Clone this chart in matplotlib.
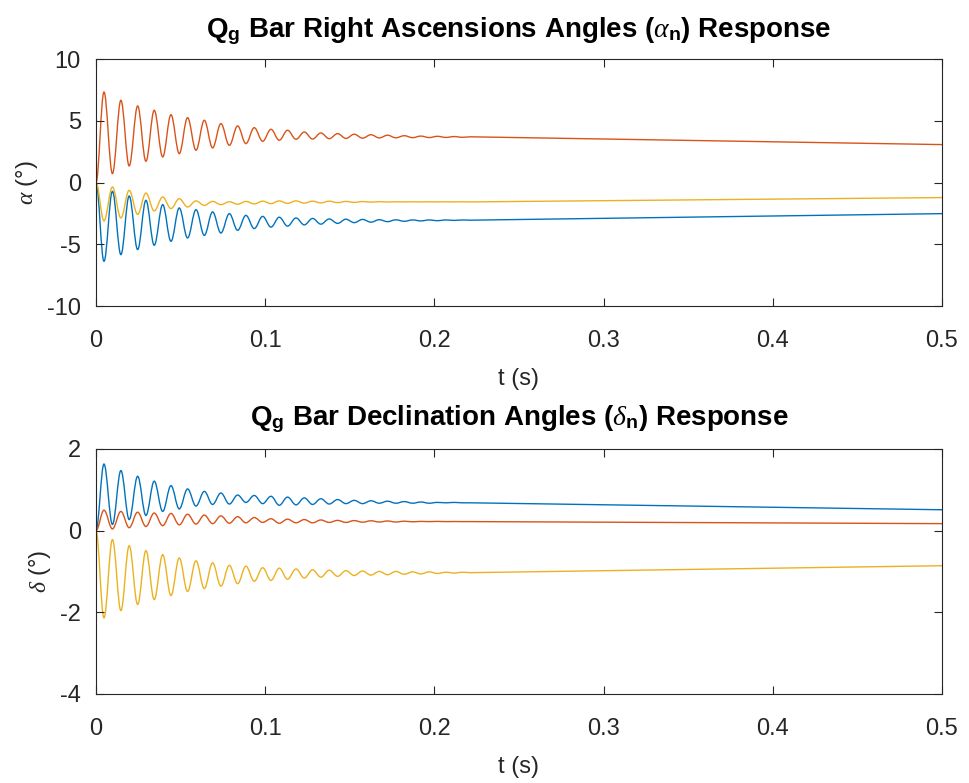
import matplotlib
matplotlib.use('Agg')
import matplotlib.pyplot as plt
from matplotlib.path import Path
from matplotlib.patches import PathPatch

plt.rcParams['font.family'] = ['Liberation Sans', 'DejaVu Sans']
plt.rcParams['mathtext.fontset'] = 'custom'
plt.rcParams['mathtext.rm'] = 'Liberation Sans'
plt.rcParams['mathtext.it'] = 'Liberation Serif:italic'
plt.rcParams['mathtext.bf'] = 'Liberation Sans:bold'

# peak / trough times (s), last point is the end of the run
t_ext = [0, 0.0047, 0.0097, 0.0147, 0.0196, 0.0246, 0.0295, 0.0344, 0.0394, 0.0443,
         0.0492, 0.0541, 0.0591, 0.0640, 0.0689, 0.0738, 0.0788, 0.0837, 0.0886, 0.0935,
         0.0985, 0.1034, 0.1083, 0.1132, 0.1182, 0.1231, 0.1280, 0.1329, 0.1378, 0.1428,
         0.1477, 0.1526, 0.1575, 0.1625, 0.1674, 0.1723, 0.1772, 0.1822, 0.1871, 0.1920,
         0.1969, 0.2018, 0.2068, 0.2117, 0.2166, 0.2215, 0.5]

# right ascension angles (deg)
alpha_1 = [0, -6.37, -0.70, -5.83, -1.08, -5.42, -1.43, -5.07, -1.78, -4.75,
           -2.05, -4.48, -2.19, -4.27, -2.37, -4.08, -2.51, -3.86, -2.65, -3.72,
           -2.73, -3.60, -2.80, -3.52, -2.86, -3.42, -2.90, -3.36, -2.94, -3.30,
           -2.96, -3.24, -2.98, -3.20, -3.00, -3.16, -3.01, -3.13, -3.02, -3.10,
           -3.02, -3.08, -3.02, -3.06, -3.02, -3.04, -2.51]
alpha_2 = [0, 7.34, 0.73, 6.67, 1.35, 6.21, 1.73, 5.86, 2.08, 5.50,
           2.35, 5.26, 2.62, 5.05, 2.81, 4.78, 3.02, 4.59, 3.16, 4.45,
           3.35, 4.32, 3.43, 4.24, 3.51, 4.10, 3.53, 4.02, 3.56, 3.97,
           3.58, 3.92, 3.60, 3.88, 3.62, 3.84, 3.63, 3.80, 3.64, 3.77,
           3.65, 3.75, 3.66, 3.73, 3.67, 3.71, 3.08]
alpha_3 = [0, -3.10, -0.35, -2.86, -0.62, -2.57, -0.84, -2.29, -1.16, -2.10,
           -1.30, -1.97, -1.48, -1.84, -1.52, -1.78, -1.55, -1.75, -1.52, -1.72,
           -1.50, -1.70, -1.48, -1.68, -1.48, -1.66, -1.50, -1.64, -1.50, -1.62,
           -1.52, -1.60, -1.53, -1.58, -1.54, -1.57, -1.55, -1.56, -1.55, -1.56,
           -1.55, -1.56, -1.55, -1.56, -1.55, -1.56, -1.21]

# declination angles (deg)
delta_1 = [0, 1.63, 0.15, 1.47, 0.27, 1.33, 0.37, 1.21, 0.47, 1.10,
           0.53, 1.02, 0.60, 0.96, 0.64, 0.92, 0.65, 0.87, 0.69, 0.86,
           0.66, 0.84, 0.62, 0.82, 0.63, 0.80, 0.64, 0.78, 0.65, 0.76,
           0.66, 0.74, 0.66, 0.73, 0.67, 0.72, 0.67, 0.71, 0.67, 0.70,
           0.67, 0.69, 0.68, 0.69, 0.68, 0.68, 0.51]
delta_2 = [0, 0.50, 0.04, 0.47, 0.07, 0.45, 0.10, 0.43, 0.12, 0.42,
           0.14, 0.40, 0.16, 0.38, 0.17, 0.36, 0.18, 0.34, 0.19, 0.32,
           0.20, 0.29, 0.18, 0.28, 0.19, 0.27, 0.19, 0.26, 0.20, 0.25,
           0.20, 0.245, 0.205, 0.24, 0.21, 0.235, 0.21, 0.23, 0.215, 0.225,
           0.22, 0.225, 0.22, 0.222, 0.22, 0.22, 0.17]
delta_3 = [0, -2.14, -0.22, -1.96, -0.37, -1.81, -0.49, -1.69, -0.59, -1.59,
           -0.67, -1.49, -0.74, -1.42, -0.79, -1.36, -0.85, -1.30, -0.87, -1.24,
           -0.91, -1.22, -0.92, -1.19, -0.94, -1.16, -0.96, -1.14, -0.97, -1.12,
           -0.98, -1.10, -0.99, -1.09, -1.00, -1.08, -1.00, -1.07, -1.01, -1.06,
           -1.01, -1.05, -1.02, -1.04, -1.02, -1.03, -0.86]

x_ticks = [0, 0.1, 0.2, 0.3, 0.4, 0.5]
x_labels = ['0', '0.1', '0.2', '0.3', '0.4', '0.5']
colors = ['#0072BD', '#D95319', '#EDB120']
axcol = '#262626'


def wave(ax, t, v, color):
    # smooth half-waves between the read extrema (flat tangent at each peak),
    # straight line for the slow drift at the end
    verts = [(t[0], v[0])]
    codes = [Path.MOVETO]
    for i in range(1, len(t)):
        dt = t[i] - t[i - 1]
        if dt > 0.02:
            verts.append((t[i], v[i]))
            codes.append(Path.LINETO)
        else:
            k = 0.3642 * dt
            verts += [(t[i - 1] + k, v[i - 1]), (t[i] - k, v[i]), (t[i], v[i])]
            codes += [Path.CURVE4] * 3
    ax.add_patch(PathPatch(Path(verts, codes), fill=False, edgecolor=color,
                           lw=1.0, joinstyle='round', capstyle='round'))


fig = plt.figure(figsize=(9.69, 7.83), dpi=100)
ax1 = fig.add_axes([0.0991, 0.609, 0.873, 0.3155])
ax2 = fig.add_axes([0.0991, 0.1137, 0.873, 0.313])

for s, c in zip([alpha_1, alpha_2, alpha_3], colors):
    wave(ax1, t_ext, s, c)
for s, c in zip([delta_1, delta_2, delta_3], colors):
    wave(ax2, t_ext, s, c)

ax1.set_ylim(-10, 10)
ax1.set_yticks([-10, -5, 0, 5, 10])
ax1.set_yticklabels(['-10', '-5', '0', '5', '10'])
ax2.set_ylim(-4, 2)
ax2.set_yticks([-4, -2, 0, 2])
ax2.set_yticklabels(['-4', '-2', '0', '2'])

ax1.set_title(r'Q$_\mathbf{g}$ Bar Right Ascensions Angles ($\alpha_\mathbf{n}$) Response',
              fontsize=20, fontweight='bold', pad=16)
ax2.set_title(r'Q$_\mathbf{g}$ Bar Declination Angles ($\delta_\mathbf{n}$) Response',
              fontsize=20, fontweight='bold', pad=17)
ax1.set_ylabel(r'$\alpha$ (°)', fontsize=17, color=axcol, labelpad=5)
ax2.set_ylabel(r'$\delta$ (°)', fontsize=17, color=axcol, labelpad=5)

for ax in (ax1, ax2):
    ax.set_xlim(0, 0.5)
    ax.set_xticks(x_ticks)
    ax.set_xticklabels(x_labels)
    ax.set_xlabel('t (s)', fontsize=17, color=axcol, labelpad=12)
    ax.tick_params(direction='in', length=6, width=0.8, colors=axcol,
                   labelsize=17, top=True, right=True)
    ax.tick_params(axis='x', pad=17)
    ax.tick_params(axis='y', pad=11)
    for sp in ax.spines.values():
        sp.set_color(axcol)
        sp.set_linewidth(0.8)

fig.savefig('out.png', dpi=100)
